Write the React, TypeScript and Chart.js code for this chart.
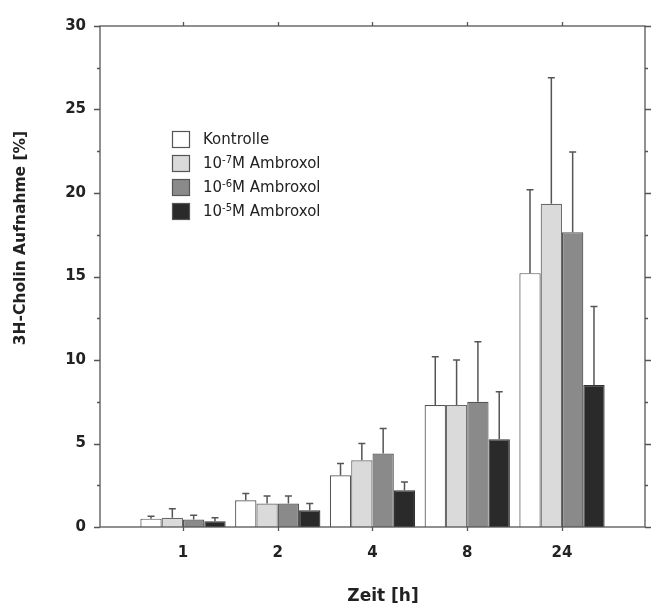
import React, { useEffect, useRef } from 'react';
import { Chart, registerables } from 'chart.js';

Chart.register(...registerables);

const timeLabels = ['1', '2', '4', '8', '24'];
const seriesLabels = ['Kontrolle', '10-7M Ambroxol', '10-6M Ambroxol', '10-5M Ambroxol'];

const kontrolle = [0.5, 1.6, 3.1, 7.3, 15.2];
const kontrolleErr = [0.15, 0.4, 0.7, 2.9, 5.0];
const amb7 = [0.55, 1.4, 4.0, 7.3, 19.35];
const amb7Err = [0.55, 0.45, 1.0, 2.7, 7.55];
const amb6 = [0.45, 1.4, 4.4, 7.5, 17.65];
const amb6Err = [0.25, 0.45, 1.5, 3.6, 4.8];
const amb5 = [0.35, 1.0, 2.2, 5.25, 8.5];
const amb5Err = [0.2, 0.4, 0.5, 2.85, 4.7];

const yTicks = [0, 5, 10, 15, 20, 25, 30];
const yMinorTicks = [2.5, 7.5, 12.5, 17.5, 22.5, 27.5];

const seriesValues = [kontrolle, amb7, amb6, amb5];
const seriesErrors = [kontrolleErr, amb7Err, amb6Err, amb5Err];
const fills = ['#ffffff', '#dadada', '#8a8a8a', '#2a2a2a'];
const borders = ['#555555', '#6a6a6a', '#555555', '#333333'];

const FONT = '"DejaVu Sans", Verdana, sans-serif';

const decorPlugin = {
  id: 'decor',
  afterDatasetsDraw(chart: any) {
    const ctx = chart.ctx;
    const { left, right, top, bottom } = chart.chartArea;
    const ys = chart.scales.y;
    const xs = chart.scales.x;
    // error bars
    ctx.save();
    ctx.strokeStyle = '#555';
    ctx.lineWidth = 1.5;
    chart.data.datasets.forEach((ds: any, i: number) => {
      const meta = chart.getDatasetMeta(i);
      meta.data.forEach((bar: any, j: number) => {
        const v = seriesValues[i][j];
        const e = seriesErrors[i][j];
        const yTop = ys.getPixelForValue(v + e);
        const yBar = ys.getPixelForValue(v);
        ctx.beginPath();
        ctx.moveTo(bar.x, yBar);
        ctx.lineTo(bar.x, yTop);
        ctx.moveTo(bar.x - 3.5, yTop);
        ctx.lineTo(bar.x + 3.5, yTop);
        ctx.stroke();
      });
    });
    ctx.restore();

    // frame
    ctx.save();
    ctx.strokeStyle = '#555';
    ctx.lineWidth = 1.3;
    ctx.strokeRect(left, top, right - left, bottom - top);
    ctx.beginPath();
    yTicks.forEach((v) => {
      const y = Math.round(ys.getPixelForValue(v)) + 0.5;
      ctx.moveTo(left - 6, y); ctx.lineTo(left, y);
      ctx.moveTo(right, y); ctx.lineTo(right + 6, y);
    });
    yMinorTicks.forEach((v) => {
      const y = Math.round(ys.getPixelForValue(v)) + 0.5;
      ctx.moveTo(left - 3, y); ctx.lineTo(left, y);
      ctx.moveTo(right, y); ctx.lineTo(right + 3, y);
    });
    timeLabels.forEach((_, i) => {
      const x = Math.round(xs.getPixelForValue(i)) + 0.5;
      ctx.moveTo(x, bottom); ctx.lineTo(x, bottom + 4);
      ctx.moveTo(x, top); ctx.lineTo(x, top - 4);
    });
    ctx.stroke();
    ctx.restore();

    // axis titles
    ctx.save();
    ctx.fillStyle = '#222';
    ctx.textAlign = 'center';
    ctx.textBaseline = 'middle';
    ctx.font = `bold 17px ${FONT}`;
    ctx.fillText('Zeit [h]', 383, 597);
    ctx.font = `bold 15.5px ${FONT}`;
    ctx.translate(21, 238);
    ctx.rotate(-Math.PI / 2);
    ctx.fillText('3H-Cholin Aufnahme [%]', 0, 0);
    ctx.restore();

    // legend
    ctx.save();
    const bx = 172;
    const by0 = 131;
    const rowH = 24;
    seriesLabels.forEach((label, i) => {
      const by = by0 + i * rowH;
      ctx.fillStyle = fills[i];
      ctx.fillRect(bx, by, 17, 16);
      ctx.strokeStyle = '#555';
      ctx.lineWidth = 1.2;
      ctx.strokeRect(bx + 0.5, by + 0.5, 17, 16);
      ctx.fillStyle = '#222';
      ctx.textBaseline = 'middle';
      ctx.textAlign = 'left';
      const cy = by + 9;
      let tx = 203;
      const m = label.match(/^(10)(-\d)(M.*)$/);
      if (m) {
        ctx.font = `15px ${FONT}`;
        ctx.fillText(m[1], tx, cy);
        tx += ctx.measureText(m[1]).width;
        ctx.font = `10px ${FONT}`;
        ctx.fillText(m[2], tx, cy - 4);
        tx += ctx.measureText(m[2]).width;
        ctx.font = `15px ${FONT}`;
        ctx.fillText(m[3], tx, cy);
      } else {
        ctx.font = `15px ${FONT}`;
        ctx.fillText(label, tx, cy);
      }
    });
    ctx.restore();
  },
};

export default function App() {
  const canvasRef = useRef<HTMLCanvasElement | null>(null);

  useEffect(() => {
    const canvas = canvasRef.current;
    if (!canvas) return;
    const chart = new Chart(canvas, {
      type: 'bar',
      data: {
        datasets: seriesValues.map((vals, i) => ({
          label: seriesLabels[i],
          data: vals.map((v, j) => ({ x: j, y: v })),
          backgroundColor: fills[i],
          borderColor: borders[i],
          borderWidth: 1.2,
          barPercentage: 1,
          categoryPercentage: 0.9,
        })),
      },
      options: {
        animation: false,
        responsive: false,
        maintainAspectRatio: false,
        layout: { padding: { left: 0, right: 10, top: 26, bottom: 0 } },
        plugins: {
          legend: { display: false },
          tooltip: { enabled: false },
        },
        scales: {
          x: {
            type: 'linear',
            min: -0.876,
            max: 4.876,
            offset: false,
            grid: { display: false, drawTicks: false },
            border: { display: false },
            afterBuildTicks: (s: any) => {
              s.ticks = timeLabels.map((_, i) => ({ value: i }));
            },
            ticks: {
              autoSkip: false,
              maxRotation: 0,
              padding: 17,
              color: '#222',
              font: { family: FONT, size: 15, weight: 'bold' },
              callback: (v: any) => timeLabels[v] ?? '',
            },
            title: { display: false },
            afterFit: (s: any) => {
              s.height = 81;
            },
          },
          y: {
            min: 0,
            max: 30,
            grid: { display: false, drawTicks: false },
            border: { display: false },
            afterBuildTicks: (s: any) => {
              s.ticks = yTicks.map((v) => ({ value: v }));
            },
            ticks: {
              padding: 14,
              color: '#222',
              font: { family: FONT, size: 15, weight: 'bold' },
            },
            afterFit: (s: any) => {
              s.width = 100;
            },
          },
        },
      },
      plugins: [decorPlugin],
    } as any);
    return () => chart.destroy();
  }, []);

  return (
    <div style={{ position: 'absolute', left: 0, top: 0, width: 655, height: 608, background: '#fff' }}>
      <canvas ref={canvasRef} width={655} height={608} style={{ display: 'block' }} />
    </div>
  );
}
